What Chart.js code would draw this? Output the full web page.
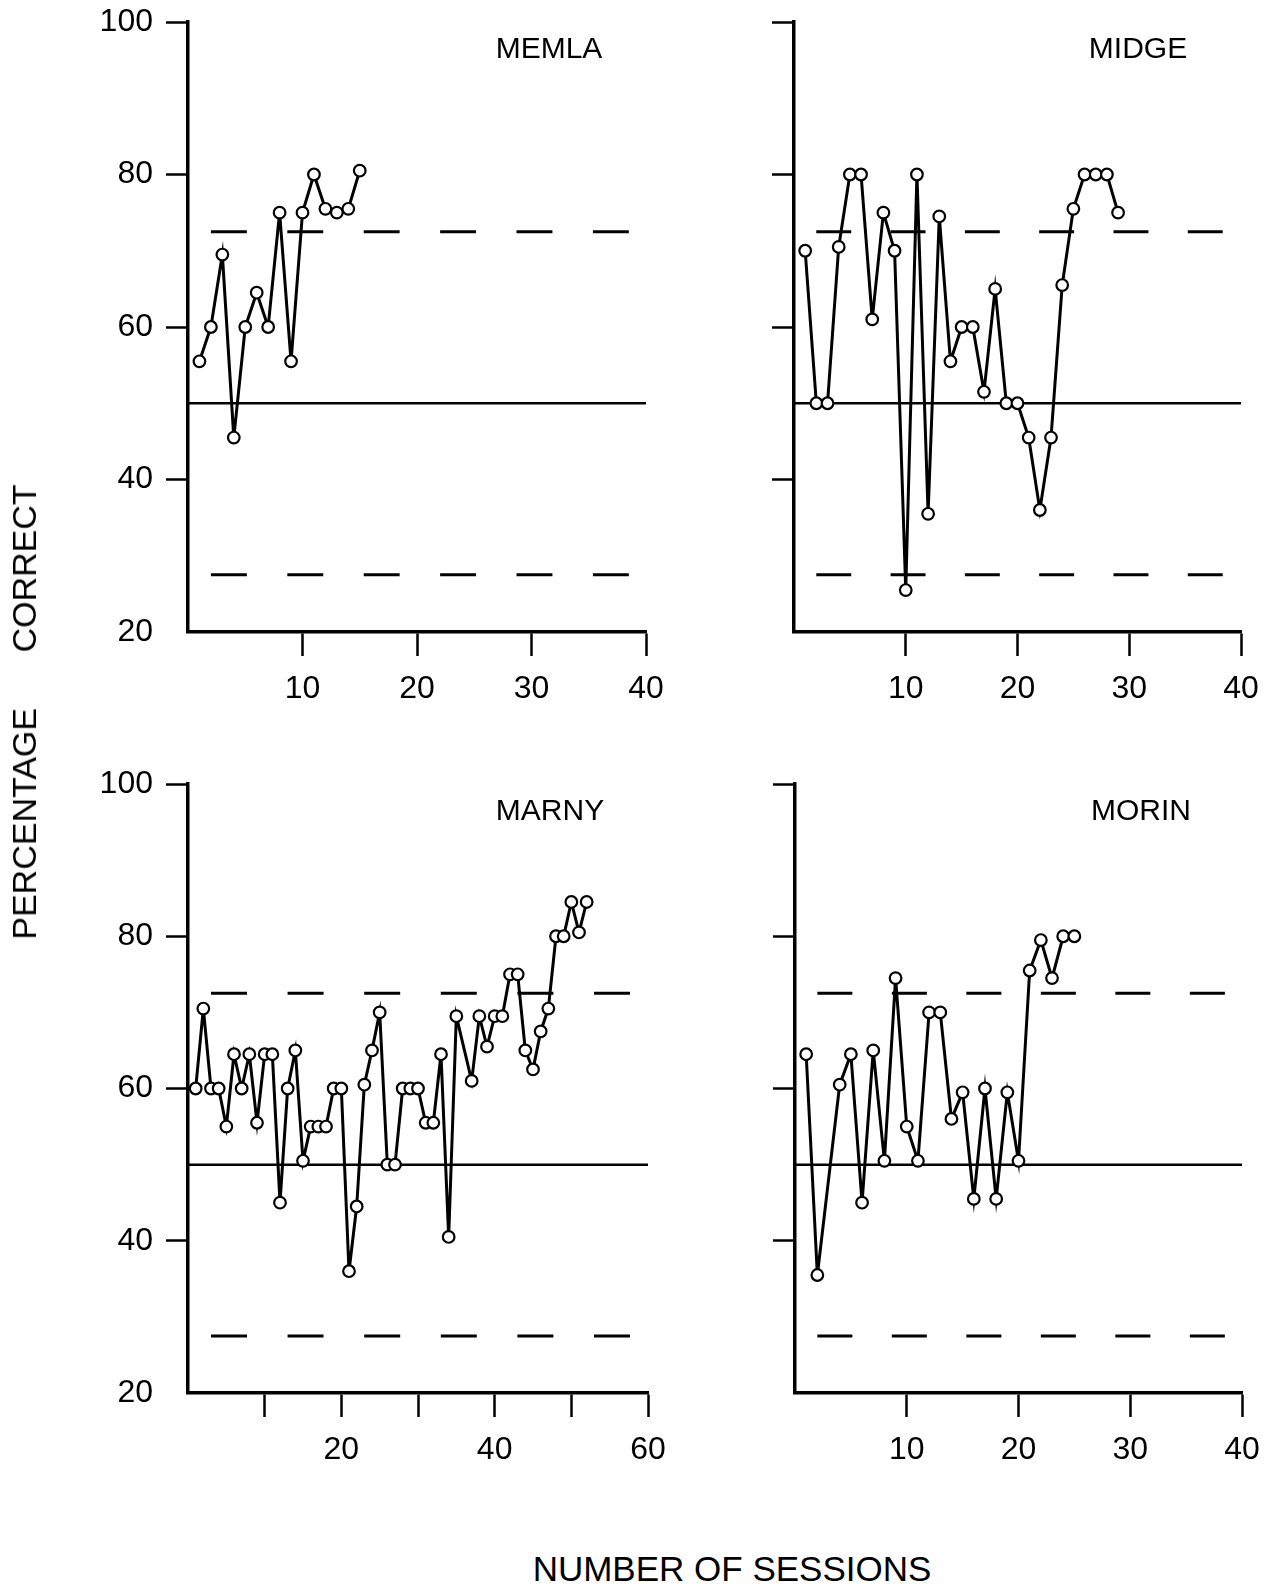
<!DOCTYPE html>
<html>
<head>
<meta charset="utf-8">
<title>Percentage correct by session</title>
<script src="https://cdn.jsdelivr.net/npm/chart.js@4.4.0/dist/chart.umd.min.js"></script>
<style>
  html, body { margin: 0; padding: 0; background: #fff; }
  body { width: 1264px; height: 1588px; position: relative; overflow: hidden;
         font-family: "Liberation Sans", Arial, sans-serif; color: #000; }
  canvas { position: absolute; }
  .name { position: absolute; font-size: 30px; line-height: 1; white-space: nowrap;
          transform: translate(-50%, -50%); }
  #ytitle { position: absolute; left: 24px; top: 712px; font-size: 34px; line-height: 1;
            white-space: nowrap; word-spacing: 46px;
            transform: translate(-50%, -50%) rotate(-90deg); }
  #xtitle { position: absolute; left: 732px; top: 1568px; font-size: 35px; line-height: 1;
            white-space: nowrap; transform: translate(-50%, -50%); }
</style>
</head>
<body>
<canvas id="memla"></canvas>
<canvas id="midge"></canvas>
<canvas id="marny"></canvas>
<canvas id="morin"></canvas>

<div class="name" style="left:549px; top:48px;">MEMLA</div>
<div class="name" style="left:1138px; top:48px;">MIDGE</div>
<div class="name" style="left:550px; top:810px;">MARNY</div>
<div class="name" style="left:1141px; top:810px;">MORIN</div>
<div id="ytitle">PERCENTAGE CORRECT</div>
<div id="xtitle">NUMBER OF SESSIONS</div>

<script>
// Percentage correct per session for each subject (session n = index n-1).
// null marks a session with no score; the line joins across it.
const memla = [55.5, 60, 69.5, 45.5, 60, 64.5, 60, 75, 55.5, 75, 80, 75.5, 75, 75.5, 80.5];
const midge = [70, 50, 50, 70.5, 80, 80, 61, 75, 70, 25.5, 80, 35.5, 74.5, 55.5, 60,
               60, 51.5, 65, 50, 50, 45.5, 36, 45.5, 65.5, 75.5, 80, 80, 80, 75];
const marny = [60, 70.5, 60, 60, 55, 64.5, 60, 64.5, 55.5, 64.5, 64.5, 45, 60, 65, 50.5,
               55, 55, 55, 60, 60, 36, 44.5, 60.5, 65, 70, 50, 50, 60, 60, 60,
               55.5, 55.5, 64.5, 40.5, 69.5, null, 61, 69.5, 65.5, 69.5, 69.5, 75, 75, 65, 62.5,
               67.5, 70.5, 80, 80, 84.5, 80.5, 84.5];
const morin = [64.5, 35.5, null, 60.5, 64.5, 45, 65, 50.5, 74.5, 55, 50.5, 70, 70, 56, 59.5,
               45.5, 60, 45.5, 59.5, 50.5, 75.5, 79.5, 74.5, 80, 80];

// Chance level and the upper / lower limits drawn as reference lines.
const chanceLevel = 50;
const upperLimit = 72.5;
const lowerLimit = 27.5;

// Axis ticks and the ticks that carry a label.
const yTicks = [20, 40, 60, 80, 100];
const xTicks40 = [10, 20, 30, 40];
const xTicks60 = [10, 20, 30, 40, 50, 60];
const xLabels40 = [10, 20, 30, 40];
const xLabels60 = [20, 40, 60];

Chart.defaults.font.family = "'Liberation Sans', Arial, sans-serif";
Chart.defaults.color = '#000';

const tickFont = { size: 32 };

function makePanel(id, series, xMax, xTicks, xLabels, showYLabels, box) {
  const cv = document.getElementById(id);
  cv.width = box.w; cv.height = box.h;
  cv.style.left = box.x + 'px'; cv.style.top = box.y + 'px';
  cv.style.width = box.w + 'px'; cv.style.height = box.h + 'px';

  // Six dashes across the plot width, the first one set in from the axis.
  const period = box.dash;
  const dashOn = period * 0.47, dashOff = period - dashOn;
  const dashOffset = period * 0.7;

  const refLine = (y, dashed) => ({
    data: [{ x: 0, y: y }, { x: xMax, y: y }],
    borderColor: '#000',
    borderWidth: dashed ? 3 : 2.5,
    borderDash: dashed ? [dashOn, dashOff] : [],
    borderDashOffset: dashed ? dashOffset : 0,
    pointRadius: 0,
    tension: 0
  });

  return new Chart(cv, {
    type: 'line',
    data: {
      datasets: [
        {
          data: series.map((v, i) => ({ x: i + 1, y: v })),
          borderColor: '#000',
          borderWidth: 3,
          pointRadius: 5.8,
          pointBorderWidth: 2.2,
          pointBackgroundColor: '#fff',
          pointBorderColor: '#000',
          spanGaps: true,
          tension: 0
        },
        refLine(chanceLevel, false),
        refLine(upperLimit, true),
        refLine(lowerLimit, true)
      ]
    },
    options: {
      responsive: false,
      animation: false,
      events: [],
      layout: { padding: { top: box.top, right: box.right, left: 0, bottom: 0 } },
      plugins: { legend: { display: false }, tooltip: { enabled: false } },
      scales: {
        x: {
          type: 'linear',
          min: 0,
          max: xMax,
          afterBuildTicks: s => { s.ticks = xTicks.map(v => ({ value: v })); },
          afterFit: s => {
            s.height = box.xh;
            s.paddingLeft = 0; s.paddingRight = 0; s.paddingTop = 0; s.paddingBottom = 0;
          },
          ticks: {
            autoSkip: false, maxRotation: 0, padding: 14, color: '#000', font: tickFont,
            callback: v => (xLabels.includes(v) ? String(v) : '')
          },
          grid: { drawOnChartArea: false, drawTicks: true, tickLength: 24, tickWidth: 2.5, tickColor: '#000' },
          border: { display: true, color: '#000', width: 3.5 }
        },
        y: {
          type: 'linear',
          min: 20,
          max: 100,
          afterBuildTicks: s => { s.ticks = yTicks.map(v => ({ value: v })); },
          afterFit: s => {
            s.width = box.yw;
            s.paddingLeft = 0; s.paddingRight = 0; s.paddingTop = 0; s.paddingBottom = 0;
          },
          ticks: {
            padding: 13, color: '#000', font: tickFont,
            callback: v => (showYLabels ? String(v) : '')
          },
          grid: {
            drawOnChartArea: false, drawTicks: true, tickLength: 22, tickWidth: 2.5,
            tickColor: c => (c.tick && c.tick.value === 20 ? 'rgba(0,0,0,0)' : '#000')
          },
          border: { display: true, color: '#000', width: 3.5 }
        }
      }
    }
  });
}

// Plot areas: top row y 22..632, bottom row y 784..1393.
makePanel('memla', memla, 40, xTicks40, xLabels40, true,
  { x: 0, y: 0, w: 676, h: 740, top: 22, right: 30, yw: 188, xh: 108, dash: 76.4 });
makePanel('midge', midge, 40, xTicks40, xLabels40, false,
  { x: 680, y: 0, w: 584, h: 740, top: 22, right: 23, yw: 114, xh: 108, dash: 74.3 });
makePanel('marny', marny, 60, xTicks60, xLabels60, true,
  { x: 0, y: 760, w: 676, h: 740, top: 24, right: 28, yw: 188, xh: 107, dash: 76.6 });
makePanel('morin', morin, 40, xTicks40, xLabels40, false,
  { x: 680, y: 760, w: 584, h: 740, top: 24, right: 22, yw: 115, xh: 107, dash: 74.5 });
</script>
</body>
</html>
